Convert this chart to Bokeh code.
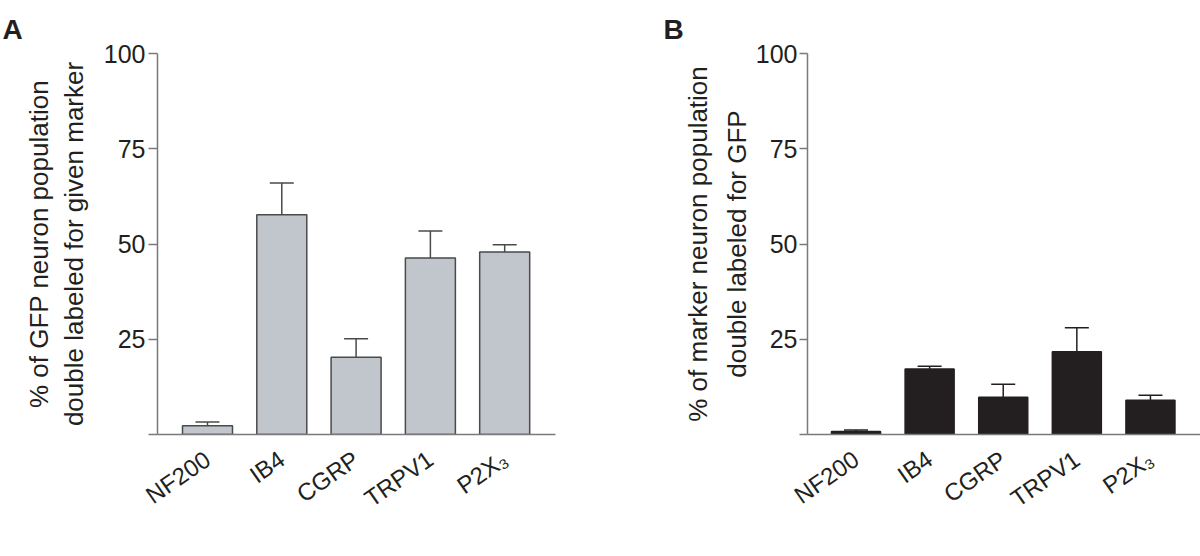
import math
from bokeh.plotting import figure
from bokeh.layouts import row
from bokeh.models import ColumnDataSource, FixedTicker, Whisker, TeeHead
from bokeh.embed import file_html
from bokeh.resources import INLINE

# ---- data ----
categories = ["NF200", "IB4", "CGRP", "TRPV1", "P2X\u2083"]
a_mean = [2.3, 57.7, 20.3, 46.3, 47.9]
a_sem = [1.0, 8.3, 4.8, 7.1, 1.9]
b_mean = [0.8, 17.2, 9.8, 21.7, 9.0]
b_sem = [0.4, 0.7, 3.4, 6.3, 1.3]
y_ticks = [0, 25, 50, 75, 100]

FONT = "Liberation Sans"
TXT = "#231f20"
AXC = "#7a7a7c"
H = 548


def make_panel(means, sems, letter, ylabel, fill, line, *, width, left, right,
               top, bottom, xr, bar_w, label_standoff, tick_len,
               line_height, tick_standoff, letter_offset):
    idx = list(range(len(categories)))
    src = ColumnDataSource(dict(
        x=idx, mean=means,
        upper=[m + s for m, s in zip(means, sems)],
    ))
    p = figure(width=width, height=H, x_range=xr, y_range=(0, 100),
               output_backend="svg", toolbar_location=None,
               min_border_left=left, min_border_right=right,
               min_border_top=top, min_border_bottom=bottom)
    p.outline_line_color = None
    p.xgrid.grid_line_color = None
    p.ygrid.grid_line_color = None
    p.background_fill_color = "white"
    p.border_fill_color = "white"

    w = Whisker(base="x", upper="upper", lower="mean", source=src,
                dimension="height", line_color=line, line_width=1.5,
                upper_head=TeeHead(size=24, line_color=line, line_width=1.5),
                lower_head=None, level="underlay")
    p.add_layout(w)
    p.vbar(x="x", top="mean", width=bar_w, source=src,
           fill_color=fill, line_color=line, line_width=1.5)

    xa = p.xaxis[0]
    xa.ticker = FixedTicker(ticks=idx)
    xa.major_label_overrides = {i: c for i, c in zip(idx, categories)}
    xa.major_label_orientation = math.radians(35)
    xa.major_tick_line_color = None
    xa.minor_tick_line_color = None
    xa.axis_line_color = AXC
    xa.axis_line_width = 1.5
    xa.major_label_text_font = FONT
    xa.major_label_text_font_size = "24px"
    xa.major_label_text_color = TXT
    xa.major_label_standoff = 16

    ya = p.yaxis[0]
    ya.ticker = FixedTicker(ticks=y_ticks)
    ya.major_label_overrides = {0: ""}
    ya.minor_tick_line_color = None
    ya.major_tick_out = tick_len
    ya.major_tick_in = 0
    ya.major_tick_line_color = AXC
    ya.major_tick_line_width = 1.5
    ya.axis_line_color = AXC
    ya.axis_line_width = 1.5
    ya.major_label_text_font = FONT
    ya.major_label_text_font_size = "25px"
    ya.major_label_text_color = TXT
    ya.major_label_standoff = tick_standoff
    ya.axis_label = ylabel
    ya.axis_label_text_font = FONT
    ya.axis_label_text_font_size = "26px"
    ya.axis_label_text_font_style = "normal"
    ya.axis_label_text_color = TXT
    ya.axis_label_standoff = label_standoff
    ya.axis_label_text_line_height = line_height

    # panel letter
    p.title.text = letter
    p.title.align = "left"
    p.title.offset = letter_offset
    p.title.standoff = 18
    p.title.text_line_height = 0.6
    p.title.text_font = FONT
    p.title.text_font_size = "28px"
    p.title.text_font_style = "bold"
    p.title.text_color = TXT
    return p


pA = make_panel(a_mean, a_sem, "A",
                "% of GFP neuron population\ndouble labeled for given marker",
                "#c1c5cc", "#4a4a4a",
                width=600, left=157, right=45, top=52, bottom=111,
                xr=(-0.673, 4.684), bar_w=0.673, label_standoff=12, tick_len=9,
                line_height=1.15, tick_standoff=3, letter_offset=-155)
pB = make_panel(b_mean, b_sem, "B",
                "% of marker neuron population\ndouble labeled for GFP",
                "#231f20", "#231f20",
                width=600, left=207, right=0, top=53, bottom=114,
                xr=(-0.659, 4.68), bar_w=0.666, label_standoff=1, tick_len=8,
                line_height=1.3, tick_standoff=2, letter_offset=-144)

layout = row(pA, pB)
open("out.html", "w").write(file_html(layout, INLINE))
